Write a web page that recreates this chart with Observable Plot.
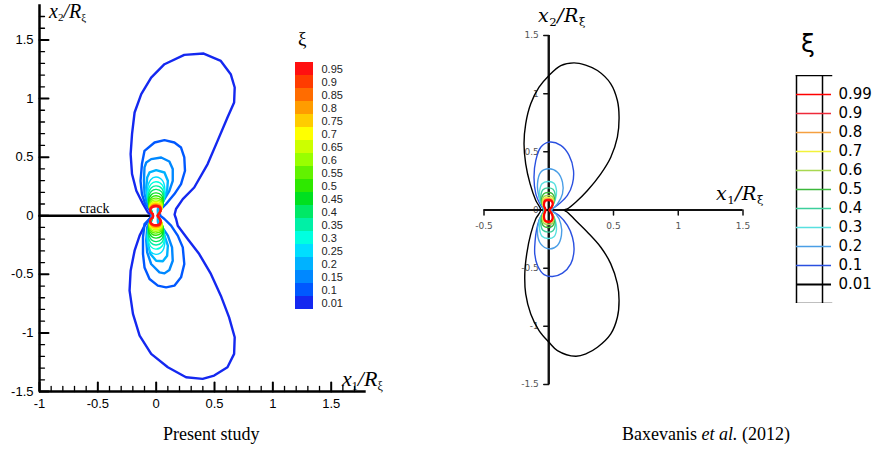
<!DOCTYPE html>
<html><head><meta charset="utf-8">
<script src="https://cdn.jsdelivr.net/npm/d3@7"></script>
<script src="https://cdn.jsdelivr.net/npm/@observablehq/plot@0.6"></script>
<style>
body{margin:0;background:#fff;}
#wrap{position:relative;width:877px;height:454px;overflow:hidden;background:#fff;}
.abs{position:absolute;white-space:nowrap;line-height:1;}
.tm{font-family:"Liberation Serif",serif;font-style:italic;}
.tm sub{font-style:normal;font-size:0.55em;vertical-align:-0.3em;}
.lx{font-family:"DejaVu Serif",serif;font-style:italic;letter-spacing:0.5px;}
.lx sub{font-style:normal;font-size:0.62em;vertical-align:-0.3em;}
.cap{font-family:"Liberation Serif",serif;font-size:18px;}
</style></head><body><div id="wrap"></div>
<script>
// ---------- Left panel (Present study) ----------
const levelsL = ["0.95","0.9","0.85","0.8","0.75","0.7","0.65","0.6","0.55","0.5","0.45","0.4","0.35","0.3","0.25","0.2","0.15","0.1","0.01"];
const colorsL = ["#ff1010","#ff3c00","#ff6c00","#ff9c00","#ffcc00","#ffff00","#ccff00","#99ff00","#62f200","#2ee800","#00e020","#00e866","#00f0a6","#00ffe0","#00deff","#00b2ff","#0088ff","#0058ff","#1428f0"];
const xMajorL = [-1,-0.5,0,0.5,1,1.5];
const xMinorL = [-0.9,-0.8,-0.7,-0.6,-0.4,-0.3,-0.2,-0.1,0.1,0.2,0.3,0.4,0.6,0.7,0.8,0.9,1.1,1.2,1.3,1.4,1.6,1.7];
const yMajorL = [-1.5,-1,-0.5,0,0.5,1,1.5];
const yMinorL = [-1.4,-1.3,-1.2,-1.1,-0.9,-0.8,-0.7,-0.6,-0.4,-0.3,-0.2,-0.1,0.1,0.2,0.3,0.4,0.6,0.7,0.8,0.9,1.1,1.2,1.3,1.4,1.6,1.7];
const crackX = [-1, -0.03];
const crackY = [0, 0];
const crackLabel = [{x: -0.53, y: 0, text: "crack"}];

const cL001 = [-0.04,0.0, -0.071,0.028, -0.113,0.100, -0.170,0.213, -0.207,0.356, -0.219,0.526, -0.207,0.697, -0.185,0.881, -0.128,1.038, -0.043,1.179, 0.071,1.293, 0.241,1.373, 0.407,1.384, 0.554,1.321, 0.639,1.208, 0.673,1.094, 0.668,0.966, 0.611,0.838, 0.526,0.639, 0.441,0.441, 0.326,0.241, 0.228,0.142, 0.170,0.057, 0.158,0.01, 0.171,-0.028, 0.185,-0.085, 0.270,-0.199, 0.369,-0.327, 0.469,-0.497, 0.554,-0.682, 0.625,-0.867, 0.673,-1.037, 0.668,-1.179, 0.611,-1.293, 0.497,-1.364, 0.398,-1.392, 0.256,-1.378, 0.100,-1.293, -0.043,-1.179, -0.142,-1.023, -0.199,-0.838, -0.228,-0.639, -0.219,-0.469, -0.185,-0.298, -0.142,-0.170, -0.100,-0.085, -0.057,-0.028];
const cL010 = [-0.035,0.0, -0.049,0.037, -0.094,0.100, -0.122,0.185, -0.134,0.298, -0.122,0.441, -0.100,0.554, -0.014,0.625, 0.071,0.645, 0.156,0.625, 0.213,0.582, 0.241,0.497, 0.247,0.384, 0.213,0.270, 0.156,0.185, 0.085,0.100, 0.028,0.043, 0.035,0.0, 0.071,-0.028, 0.128,-0.085, 0.185,-0.170, 0.228,-0.270, 0.241,-0.412, 0.213,-0.526, 0.156,-0.597, 0.085,-0.611, 0.014,-0.597, -0.057,-0.540, -0.100,-0.441, -0.113,-0.327, -0.113,-0.185, -0.100,-0.071, -0.05,-0.02];
const cL015 = [-0.035,0.0, -0.043,0.043, -0.077,0.100, -0.100,0.185, -0.105,0.298, -0.100,0.412, -0.085,0.454, -0.043,0.483, 0.043,0.497, 0.113,0.463, 0.142,0.398, 0.142,0.298, 0.113,0.213, 0.071,0.142, 0.028,0.071, 0.02,0.02, 0.025,-0.03, 0.043,-0.085, 0.100,-0.170, 0.136,-0.270, 0.142,-0.384, 0.113,-0.463, 0.071,-0.492, 0.028,-0.483, -0.043,-0.412, -0.077,-0.313, -0.085,-0.213, -0.077,-0.099, -0.045,-0.03];
const cL020 = [-0.035,0.0, -0.049,0.071, -0.077,0.156, -0.085,0.241, -0.077,0.327, -0.057,0.369, 0,0.389, 0.071,0.369, 0.100,0.298, 0.094,0.213, 0.057,0.128, 0.014,0.057, 0.015,0.0, 0.014,-0.05, 0.028,-0.099, 0.071,-0.170, 0.100,-0.256, 0.094,-0.341, 0.057,-0.389, 0,-0.384, -0.049,-0.327, -0.071,-0.241, -0.071,-0.128, -0.04,-0.04];
const cL025 = [-0.03,0.015, -0.062,0.099, -0.078,0.198, -0.047,0.307, 0,0.33, 0.056,0.297, 0.075,0.182, 0.045,0.066, 0.012,0, 0.045,-0.066, 0.075,-0.182, 0.056,-0.297, 0,-0.33, -0.047,-0.307, -0.078,-0.198, -0.062,-0.099, -0.03,-0.015];
const cL030 = [-0.03,0.015, -0.059,0.087, -0.074,0.174, -0.044,0.27, 0,0.29, 0.053,0.261, 0.07,0.16, 0.042,0.058, 0.012,0, 0.042,-0.058, 0.07,-0.157, 0.053,-0.256, 0,-0.285, -0.044,-0.266, -0.074,-0.172, -0.059,-0.087, -0.03,-0.015];
const cL035 = [-0.03,0.015, -0.057,0.077, -0.071,0.153, -0.043,0.237, 0,0.255, 0.05,0.23, 0.066,0.14, 0.04,0.051, 0.012,0, 0.04,-0.051, 0.066,-0.138, 0.05,-0.226, 0,-0.25, -0.043,-0.233, -0.071,-0.15, -0.057,-0.077, -0.03,-0.015];
const cL040 = [-0.03,0.015, -0.054,0.068, -0.068,0.135, -0.041,0.209, 0,0.225, 0.047,0.203, 0.062,0.124, 0.037,0.045, 0.012,0, 0.037,-0.045, 0.062,-0.122, 0.047,-0.2, 0,-0.221, -0.041,-0.205, -0.068,-0.133, -0.054,-0.068, -0.03,-0.015];
const cL045 = [-0.03,0.015, -0.053,0.059, -0.066,0.117, -0.04,0.181, 0,0.195, 0.044,0.176, 0.059,0.107, 0.035,0.039, 0.012,0, 0.035,-0.039, 0.059,-0.105, 0.044,-0.173, 0,-0.191, -0.04,-0.178, -0.066,-0.115, -0.053,-0.059, -0.03,-0.015];
const cL050 = [-0.03,0.015, -0.051,0.051, -0.064,0.102, -0.038,0.158, 0,0.17, 0.042,0.153, 0.056,0.094, 0.034,0.034, 0.012,0, 0.034,-0.034, 0.056,-0.092, 0.042,-0.15, 0,-0.167, -0.038,-0.155, -0.064,-0.1, -0.051,-0.051, -0.03,-0.015];
const cL055 = [-0.03,0.015, -0.05,0.045, -0.062,0.09, -0.037,0.14, 0,0.15, 0.041,0.135, 0.054,0.083, 0.032,0.03, 0.012,0, 0.032,-0.03, 0.054,-0.082, 0.041,-0.133, 0,-0.148, -0.037,-0.138, -0.062,-0.089, -0.05,-0.045, -0.03,-0.015];
const cL060 = [-0.03,0.015, -0.048,0.041, -0.06,0.081, -0.036,0.126, 0,0.135, 0.039,0.122, 0.052,0.074, 0.031,0.027, 0.012,0, 0.031,-0.027, 0.052,-0.073, 0.039,-0.12, 0,-0.133, -0.036,-0.124, -0.06,-0.08, -0.048,-0.041, -0.03,-0.015];
const cL065 = [-0.03,0.015, -0.046,0.037, -0.058,0.073, -0.035,0.113, 0,0.122, 0.038,0.11, 0.05,0.067, 0.03,0.024, 0.012,0, 0.03,-0.024, 0.05,-0.066, 0.038,-0.108, 0,-0.12, -0.035,-0.111, -0.058,-0.072, -0.046,-0.037, -0.03,-0.015];
const cL070 = [-0.03,0.015, -0.046,0.034, -0.057,0.067, -0.034,0.104, 0,0.112, 0.036,0.101, 0.048,0.062, 0.029,0.022, 0.012,0, 0.029,-0.022, 0.048,-0.061, 0.036,-0.1, 0,-0.11, -0.034,-0.102, -0.057,-0.066, -0.046,-0.034, -0.03,-0.015];
const cL075 = [-0.03,0.015, -0.045,0.031, -0.056,0.062, -0.034,0.097, 0,0.104, 0.035,0.094, 0.046,0.057, 0.028,0.021, 0.012,0, 0.028,-0.021, 0.046,-0.056, 0.035,-0.092, 0,-0.102, -0.034,-0.095, -0.056,-0.061, -0.045,-0.031, -0.03,-0.015];
const cL080 = [-0.03,0.015, -0.044,0.029, -0.055,0.058, -0.033,0.09, 0,0.097, 0.033,0.087, 0.044,0.053, 0.026,0.019, 0.012,0, 0.026,-0.019, 0.044,-0.052, 0.033,-0.086, 0,-0.095, -0.033,-0.088, -0.055,-0.057, -0.044,-0.029, -0.03,-0.015];
const cL085 = [-0.03,0.015, -0.043,0.027, -0.054,0.055, -0.032,0.085, 0,0.091, 0.032,0.082, 0.042,0.05, 0.025,0.018, 0.012,0, 0.025,-0.018, 0.042,-0.049, 0.032,-0.081, 0,-0.089, -0.032,-0.083, -0.054,-0.054, -0.043,-0.027, -0.03,-0.015];
const cL090 = [-0.03,0.015, -0.042,0.026, -0.053,0.052, -0.032,0.08, 0,0.086, 0.03,0.077, 0.04,0.047, 0.024,0.017, 0.012,0, 0.024,-0.017, 0.04,-0.046, 0.03,-0.076, 0,-0.085, -0.032,-0.079, -0.053,-0.051, -0.042,-0.026, -0.03,-0.015];
const cL095 = [-0.03,0.015, -0.042,0.025, -0.052,0.049, -0.031,0.076, 0,0.082, 0.029,0.074, 0.038,0.045, 0.023,0.016, 0.012,0, 0.023,-0.016, 0.038,-0.044, 0.029,-0.073, 0,-0.081, -0.031,-0.075, -0.052,-0.048, -0.042,-0.025, -0.03,-0.015];
const contoursL = [[0.01,cL001],[0.1,cL010],[0.15,cL015],[0.2,cL020],[0.25,cL025],[0.3,cL030],[0.35,cL035],[0.4,cL040],[0.45,cL045],[0.5,cL050],[0.55,cL055],[0.6,cL060],[0.65,cL065],[0.7,cL070],[0.75,cL075],[0.8,cL080],[0.85,cL085],[0.9,cL090],[0.95,cL095]];

// ---------- Right panel (Baxevanis et al. 2012) ----------
const levelsR = ["0.99","0.9","0.8","0.7","0.6","0.5","0.4","0.3","0.2","0.1","0.01"];
const colorsR = ["#ff0000","#ee2a3a","#f5a040","#f2f23a","#a8d850","#3cb83c","#3ccf9c","#58e0e0","#4a9ee6","#2a50e0","#000000"];
const xTicksR = [-0.5,0,0.5,1,1.5];
const yTicksR = [-1.5,-1,-0.5,0,0.5,1,1.5];

const cR001 = [-0.062,0.0, -0.100,0.082, -0.144,0.225, -0.178,0.397, -0.191,0.569, -0.178,0.741, -0.139,0.913, -0.075,1.056, 0.002,1.157, 0.093,1.242, 0.195,1.265, 0.285,1.245, 0.376,1.199, 0.479,1.085, 0.530,0.941, 0.543,0.798, 0.530,0.626, 0.479,0.454, 0.402,0.311, 0.299,0.168, 0.208,0.067, 0.144,0.010, 0.118,0.0, 0.144,-0.019, 0.195,-0.076, 0.299,-0.191, 0.402,-0.320, 0.479,-0.463, 0.530,-0.635, 0.543,-0.778, 0.530,-0.922, 0.479,-1.065, 0.376,-1.180, 0.290,-1.235, 0.208,-1.257, 0.067,-1.208, 0.002,-1.137, -0.075,-1.036, -0.139,-0.893, -0.178,-0.721, -0.185,-0.549, -0.170,-0.377, -0.139,-0.205, -0.100,-0.076];
const cR01 = [-0.04,0.0, -0.062,0.039, -0.100,0.139, -0.114,0.282, -0.100,0.426, -0.062,0.540, 0.002,0.583, 0.093,0.555, 0.157,0.469, 0.191,0.340, 0.183,0.225, 0.144,0.125, 0.080,0.053, 0.029,0.010, 0.02,0.0, 0.029,-0.012, 0.080,-0.047, 0.144,-0.133, 0.183,-0.234, 0.195,-0.348, 0.170,-0.463, 0.106,-0.543, 0.029,-0.572, -0.036,-0.555, -0.087,-0.477, -0.108,-0.377, -0.105,-0.262, -0.095,-0.176, -0.075,-0.090];
const cR02 = [-0.035,0.0, -0.049,0.030, -0.075,0.110, -0.087,0.225, -0.062,0.325, 0.002,0.354, 0.067,0.325, 0.106,0.239, 0.106,0.139, 0.067,0.053, 0.029,0.010, 0.015,0.0, 0.025,-0.012, 0.054,-0.033, 0.093,-0.119, 0.098,-0.219, 0.067,-0.305, 0.002,-0.334, -0.062,-0.291, -0.087,-0.205, -0.075,-0.090, -0.045,-0.025];
const cR03 = [-0.035,0.0, -0.04,0.02, -0.066,0.075, -0.072,0.15, -0.052,0.225, -0.005,0.245, 0.04,0.23, 0.06,0.165, 0.05,0.085, 0.025,0.025, 0.01,0.0, 0.025,-0.025, 0.05,-0.085, 0.06,-0.165, 0.04,-0.23, -0.005,-0.245, -0.052,-0.225, -0.072,-0.15, -0.066,-0.075, -0.04,-0.02];
const cR04 = [-0.034,0.0, -0.038,0.02, -0.057,0.06, -0.062,0.115, -0.045,0.175, -0.005,0.19, 0.033,0.178, 0.05,0.13, 0.042,0.07, 0.02,0.02, 0.008,0.0, 0.02,-0.02, 0.042,-0.07, 0.05,-0.13, 0.033,-0.178, -0.005,-0.19, -0.045,-0.175, -0.062,-0.115, -0.057,-0.06, -0.038,-0.02];
const cR05 = [-0.032,0.0, -0.036,0.02, -0.051,0.05, -0.055,0.095, -0.04,0.138, -0.005,0.15, 0.028,0.14, 0.043,0.102, 0.036,0.055, 0.018,0.018, 0.007,0.0, 0.018,-0.018, 0.036,-0.055, 0.043,-0.102, 0.028,-0.14, -0.005,-0.15, -0.04,-0.138, -0.055,-0.095, -0.051,-0.05, -0.036,-0.02];
const cR06 = [-0.03,0.0, -0.034,0.018, -0.047,0.045, -0.05,0.08, -0.037,0.115, -0.005,0.125, 0.026,0.117, 0.039,0.085, 0.033,0.046, 0.016,0.016, 0.006,0.0, 0.016,-0.016, 0.033,-0.046, 0.039,-0.085, 0.026,-0.117, -0.005,-0.125, -0.037,-0.115, -0.05,-0.08, -0.047,-0.045, -0.034,-0.018];
const cR07 = [-0.028,0.0, -0.032,0.017, -0.044,0.04, -0.046,0.07, -0.034,0.1, -0.005,0.108, 0.024,0.101, 0.036,0.074, 0.03,0.04, 0.015,0.015, 0.006,0.0, 0.015,-0.015, 0.03,-0.04, 0.036,-0.074, 0.024,-0.101, -0.005,-0.108, -0.034,-0.1, -0.046,-0.07, -0.044,-0.04, -0.032,-0.017];
const cR08 = [-0.027,0.0, -0.03,0.016, -0.04,0.036, -0.042,0.063, -0.031,0.09, -0.004,0.097, 0.022,0.091, 0.034,0.066, 0.028,0.036, 0.014,0.014, 0.006,0.0, 0.014,-0.014, 0.028,-0.036, 0.034,-0.068, 0.022,-0.094, -0.004,-0.1, -0.031,-0.093, -0.042,-0.065, -0.04,-0.036, -0.03,-0.016];
const cR09 = [-0.026,0.0, -0.029,0.015, -0.037,0.033, -0.039,0.058, -0.029,0.083, -0.004,0.09, 0.021,0.084, 0.032,0.061, 0.026,0.033, 0.013,0.013, 0.005,0.0, 0.013,-0.013, 0.026,-0.035, 0.032,-0.065, 0.021,-0.09, -0.004,-0.097, -0.029,-0.089, -0.039,-0.062, -0.037,-0.035, -0.029,-0.015];
const cR099 = [-0.025,0.0, -0.028,0.014, -0.035,0.03, -0.036,0.055, -0.027,0.078, -0.004,0.084, 0.02,0.079, 0.03,0.057, 0.025,0.03, 0.012,0.012, 0.005,0.0, 0.012,-0.013, 0.025,-0.038, 0.03,-0.07, 0.02,-0.095, -0.004,-0.102, -0.027,-0.094, -0.036,-0.066, -0.035,-0.036, -0.028,-0.015];
const contoursR = [["0.01",cR001],["0.1",cR01],["0.2",cR02],["0.3",cR03],["0.4",cR04],["0.5",cR05],["0.6",cR06],["0.7",cR07],["0.8",cR08],["0.9",cR09],["0.99",cR099]];

// ---------- helpers ----------
const toRows = flat => { const r = []; for (let i = 0; i < flat.length; i += 2) r.push({x: flat[i], y: flat[i + 1]}); return r; };
const colorL = lev => colorsL[levelsL.indexOf(String(lev))];
const widthL = lev => (lev <= 0.2 ? 2.4 : lev >= 0.95 ? 2.6 : 1.4);
const colorR = lev => colorsR[levelsR.indexOf(lev)];
const tickUp = {draw(c, l) { c.moveTo(0, 0); c.lineTo(0, -l); }};
const fmt = d => String(d);
const wrap = document.getElementById("wrap");
function place(el, left, top) { el.style.position = "absolute"; el.style.left = left + "px"; el.style.top = top + "px"; wrap.appendChild(el); }
function html(h, cls, left, top, extra) { const d = document.createElement("div"); d.className = "abs " + cls; d.innerHTML = h; if (extra) d.style.cssText += extra; place(d, left, top); }

// ---------- Plot A : left chart ----------
const plotA = Plot.plot({
  width: 440, height: 454, marginLeft: 39, marginRight: 74.3, marginTop: 4.3, marginBottom: 63,
  x: {domain: [-1, 1.8]}, y: {domain: [-1.5, 1.8]},
  style: {background: "transparent", fontFamily: "'Liberation Sans', Arial, sans-serif", color: "#000"},
  marks: [
    Plot.line(crackX.map((x, i) => ({x, y: crackY[i]})), {x: "x", y: "y", stroke: "#000", strokeWidth: 2.5}),
    ...contoursL.map(([lev, pts]) => Plot.line(toRows(pts), {x: "x", y: "y", curve: lev <= 0.2 ? "linear-closed" : "catmull-rom-closed", stroke: colorL(lev), strokeWidth: widthL(lev), strokeLinejoin: "round"})),
    Plot.ruleX([-1], {y1: -1.5, y2: 1.8, stroke: "#000", strokeWidth: 2.5}),
    Plot.ruleY([-1.5], {x1: -1, x2: 1.8, stroke: "#000", strokeWidth: 2.5}),
    Plot.vector(xMajorL, {x: d => d, y: -1.5, length: 9, anchor: "start", shape: tickUp, stroke: "#000", strokeWidth: 2}),
    Plot.vector(xMinorL, {x: d => d, y: -1.5, length: 5, anchor: "start", shape: tickUp, stroke: "#000", strokeWidth: 1.3}),
    Plot.vector(yMajorL, {x: -1, y: d => d, length: 9, rotate: 90, anchor: "start", shape: tickUp, stroke: "#000", strokeWidth: 2}),
    Plot.vector(yMinorL, {x: -1, y: d => d, length: 5, rotate: 90, anchor: "start", shape: tickUp, stroke: "#000", strokeWidth: 1.3}),
    Plot.axisX({ticks: xMajorL, tickSize: 0, tickPadding: 7, tickFormat: fmt, fontSize: 13, label: null}),
    Plot.axisY({ticks: yMajorL, tickSize: 0, tickPadding: 6, tickFormat: fmt, fontSize: 13, label: null}),
    Plot.text(crackLabel, {x: "x", y: "y", text: "text", lineAnchor: "bottom", dy: -3, fontFamily: "'Liberation Serif', serif", fontSize: 14})
  ]
});
place(plotA, 0, 0);

// ---------- Plot C : left colour bar ----------
const plotC = Plot.plot({
  width: 70, height: 257, marginTop: 0, marginBottom: 0, marginLeft: 0, marginRight: 52,
  style: {background: "transparent", fontFamily: "'Liberation Sans', Arial, sans-serif", color: "#222"},
  x: {axis: null}, y: {type: "band", domain: levelsL, padding: 0, axis: null}, color: {type: "identity"},
  marks: [
    Plot.cell(levelsL, {y: d => d, fill: (d, i) => colorsL[i]}),
    Plot.axisY({anchor: "right", tickSize: 0, tickPadding: 8, fontSize: 11, label: null})
  ]
});
place(plotC, 295, 57);

// ---------- Plot B : right chart ----------
const plotB = Plot.plot({
  width: 437, height: 454, marginLeft: 43.5, marginRight: 134.5, marginTop: 35, marginBottom: 70,
  x: {domain: [-0.5, 1.5], axis: null}, y: {domain: [-1.5, 1.5], axis: null},
  style: {background: "transparent", fontFamily: "'DejaVu Sans', sans-serif"},
  marks: [
    Plot.text(yTicksR, {x: 0, y: d => d, text: fmt, dx: -10, textAnchor: "end", fontSize: 9, fill: "#555"}),
    Plot.text(xTicksR, {x: d => d, y: 0, text: fmt, dy: 16, fontSize: 9, fill: "#555"}),
    Plot.ruleX([0], {y1: -1.5, y2: 1.5, stroke: "#111", strokeWidth: 2.4}),
    Plot.ruleY([0], {x1: -0.5, x2: 1.5, stroke: "#111", strokeWidth: 2}),
    Plot.vector(yTicksR, {x: 0, y: d => d, length: 5, rotate: -90, anchor: "start", shape: tickUp, stroke: "#111", strokeWidth: 1.5}),
    Plot.vector(xTicksR, {x: d => d, y: 0, length: 5, rotate: 180, anchor: "start", shape: tickUp, stroke: "#111", strokeWidth: 1.5}),
    ...contoursR.map(([lev, pts]) => Plot.line(toRows(pts), {x: "x", y: "y", curve: "catmull-rom-closed", stroke: colorR(lev), strokeWidth: lev === "0.99" ? 2.2 : 1.4}))
  ]
});
place(plotB, 440, 0);

// ---------- Plot D : right legend ----------
const plotD = Plot.plot({
  width: 82, height: 228, marginTop: 0, marginBottom: 0, marginLeft: 1, marginRight: 46,
  style: {background: "transparent", fontFamily: "'DejaVu Sans', sans-serif", color: "#000"},
  x: {domain: [0, 1], axis: null}, y: {type: "point", domain: levelsR, padding: 1, axis: null}, color: {type: "identity"},
  marks: [
    Plot.frame({anchor: "top", strokeWidth: 1.5}),
    Plot.frame({anchor: "bottom", strokeWidth: 1.5}),
    Plot.frame({anchor: "left", strokeWidth: 1.5}),
    Plot.ruleX([0.743], {stroke: "#000", strokeWidth: 1.5}),
    Plot.ruleY(levelsR, {y: d => d, x1: 0, x2: 1, stroke: (d, i) => colorsR[i], strokeWidth: d => (d === "0.01" ? 2 : 1.5)}),
    Plot.axisY({anchor: "right", tickSize: 0, tickPadding: 7, fontSize: 15, label: null})
  ]
});
place(plotD, 795, 75);

// ---------- text overlays ----------
html("x<sub>2</sub>/R<sub>ξ</sub>", "tm", 49, 1, "font-size:20px;");
html("x<sub>1</sub>/R<sub>ξ</sub>", "tm", 342, 368, "font-size:22px;");
html("ξ", "", 298, 29, "font-family:'Liberation Serif',serif;font-size:19px;");
html("x<sub>2</sub>/R<sub>ξ</sub>", "lx", 538, 6, "font-size:19px;");
html("x<sub>1</sub>/R<sub>ξ</sub>", "lx", 716, 184, "font-size:19px;");
html("ξ", "", 801, 31, "font-family:'DejaVu Sans',sans-serif;font-size:25px;");
html("Present study", "cap", 163, 425);
html("Baxevanis <i>et al.</i> (2012)", "cap", 622, 425);
</script></body></html>
